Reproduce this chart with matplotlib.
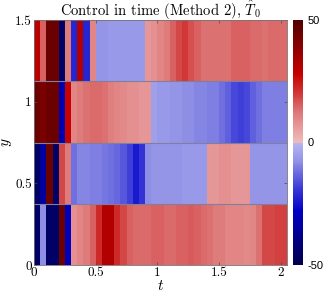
import numpy as np
import matplotlib
matplotlib.use('Agg')
import matplotlib.pyplot as plt
from matplotlib.colors import LinearSegmentedColormap

plt.rcParams['font.family'] = 'serif'
plt.rcParams['font.serif'] = ['cmr10']
plt.rcParams['mathtext.fontset'] = 'cm'
plt.rcParams['axes.formatter.use_mathtext'] = True

# control values per strip (bottom -> top), one per time cell of width dt
dt = 0.05
y_edges = [0, 0.375, 0.75, 1.125, 1.5]
row0 = [-45, -8, -45, -45, 45, -30, 8, 10, 12, 15, 22, 32, 32, 22, 18, 15,
        14, 14, 14, 15, 15, 14, 14, 15, 15, 16, 15, 14, 13, 12, 12, 10, 10,
        10, 9, 10, 13, 18, 18, 19, 19]
row1 = [-45, -35, 45, -45, 18, 12, -12, -9, -9, -10, -10, -11, -12, -13, -15,
        -18, -24, -20, -8, -7, -7, -7, -7, -7, -6, -6, -6, -6, 7, 7, 8, 8,
        7, 7, 7, -7, -7, -7, -7, -7, -7]
row2 = [45, 42, 45, 45, -32, 28, 10, 12, 13, 14, 14, 13, 11, 10, 9, 8, 8, 7,
        7, -5, -6, -6, -7, -7, -8, -8, -9, -9, -10, -10, -12, -14, -17, -18,
        -17, -14, -12, -10, -10, -10, -10]
row3 = [30, 15, 45, 45, -45, 12, -22, 32, -22, 10, -7, -7, -6, -6, -6, -6,
        -6, -6, 7, 8, 10, 12, 15, 18, 20, 17, 15, 13, 13, 13, 13, 13, 15, 15,
        15, 14, 14, 13, 14, 14, 14]

data = np.array([row0, row1, row2, row3], dtype=float)
x_edges = np.arange(data.shape[1] + 1) * dt

cmap = LinearSegmentedColormap.from_list('rb', [
    (0.0, (0.0, 0.0, 0.30)),
    (0.22, (0.0, 0.0, 0.78)),
    (0.32, (0.25, 0.25, 0.85)),
    (0.42, (0.56, 0.56, 0.90)),
    (0.4999, (0.72, 0.72, 0.95)),
    (0.5, (0.94, 0.74, 0.74)),
    (0.62, (0.87, 0.48, 0.48)),
    (0.70, (0.82, 0.22, 0.22)),
    (0.78, (0.78, 0.0, 0.0)),
    (1.0, (0.32, 0.0, 0.0)),
])

fig = plt.figure(figsize=(3.24, 2.99), dpi=100)
ax = fig.add_axes([34 / 324, 34 / 299, 253 / 324, 245 / 299])
cax = fig.add_axes([293 / 324, 34 / 299, 10 / 324, 245 / 299])

mesh = ax.pcolormesh(x_edges, y_edges, data, cmap=cmap, vmin=-50, vmax=50)
for yb in y_edges[1:-1]:
    ax.axhline(yb, color=(0.5, 0.5, 0.62), lw=0.8)

ax.set_xlim(0, x_edges[-1])
ax.set_ylim(0, 1.5)
ax.set_xticks([0, 0.5, 1, 1.5, 2])
ax.set_xticklabels(['0', '0.5', '1', '1.5', '2'])
ax.set_yticks([0, 0.5, 1, 1.5])
ax.set_yticklabels(['0', '0.5', '1', '1.5'])
ax.tick_params(direction='in', length=2.5, width=0.5, labelsize=9.5, pad=1.5,
               color='0.3', top=True, right=True)
for s in ax.spines.values():
    s.set_color('0.45')
    s.set_linewidth(0.6)
ax.set_xlabel('$t$', fontsize=11, labelpad=0)
ax.set_ylabel('$y$', fontsize=11)
ax.yaxis.set_label_coords(-0.078, 0.5)
ax.set_title(r'Control in time (Method 2), $\hat{T}_0$', fontsize=10.5, pad=3)

cb = fig.colorbar(mesh, cax=cax, ticks=[-50, 0, 50])
cb.outline.set_visible(False)
cb.ax.tick_params(length=0, pad=3)
cb.ax.set_yticklabels(['-50', '0', '50'], fontfamily='Liberation Sans', fontsize=8)

fig.savefig('out.png', dpi=100)
